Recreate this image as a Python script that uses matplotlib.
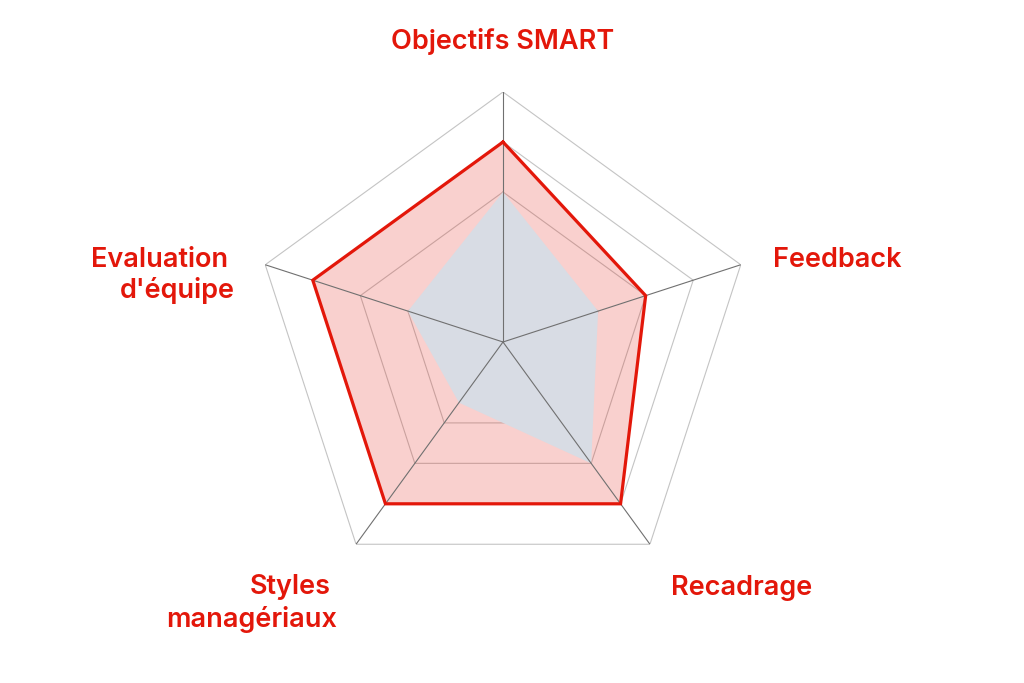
import numpy as np
import matplotlib
matplotlib.use('Agg')
import matplotlib.pyplot as plt

## data
categories = ['Objectifs SMART', 'Feedback', 'Recadrage', 'Styles\nmanagériaux', "Evaluation\nd'équipe"]
cible = [4, 3, 4, 4, 4]        # red outline + pink fill
actuel = [3, 2, 3, 1.5, 2]     # grey-blue fill
levels = [1, 2, 3, 4, 5]

red = '#E3170A'
blue = '#D8DCE4'

plt.rcParams['font.family'] = ['Inter', 'DejaVu Sans']

n = len(categories)
theta = np.linspace(0, 2*np.pi, n, endpoint=False)
theta_c = np.append(theta, theta[0])

fig = plt.figure(figsize=(10.24, 6.83), dpi=100)
ax = fig.add_axes([253/1024, 91/683, 500/1024, 500/683], projection='polar')
ax.set_theta_offset(np.pi/2)
ax.set_theta_direction(-1)
ax.set_ylim(0, 5)
ax.axis('off')

# pentagon grid
for lv in levels:
    ax.plot(theta_c, [lv]*(n+1), color='#c4c4c4', lw=0.8, zorder=1)

# pink area (target)
cc = np.append(cible, cible[0])
ax.fill(theta_c, cc, color=red, alpha=0.2, lw=0, zorder=2)

# blue area (current)
aa = np.append(actuel, actuel[0])
ax.fill(theta_c, aa, color=blue, lw=0, zorder=3)

# spokes
for t in theta:
    ax.plot([t, t], [0, 5], color='#707070', lw=0.8, zorder=4)

ax.plot(theta_c, cc, color=red, lw=2.3, zorder=5, solid_joinstyle='miter')

# labels, one text per line, placed on baselines (pixels)
kw = dict(color=red, fontsize=19.5, fontweight='semibold', va='baseline')
def label(line, x, y, ha):
    fig.text(x/1024, 1-y/683, line, ha=ha, **kw)

label(categories[0], 503, 49, 'center')
label(categories[1], 773, 267, 'left')
label(categories[2], 671, 595, 'left')
l1, l2 = categories[3].split('\n')
label(l1, 331, 594, 'right')
label(l2, 337, 627, 'right')
l1, l2 = categories[4].split('\n')
label(l1, 228, 267, 'right')
label(l2, 235, 298, 'right')

fig.savefig('out.png', dpi=100, facecolor='white')
